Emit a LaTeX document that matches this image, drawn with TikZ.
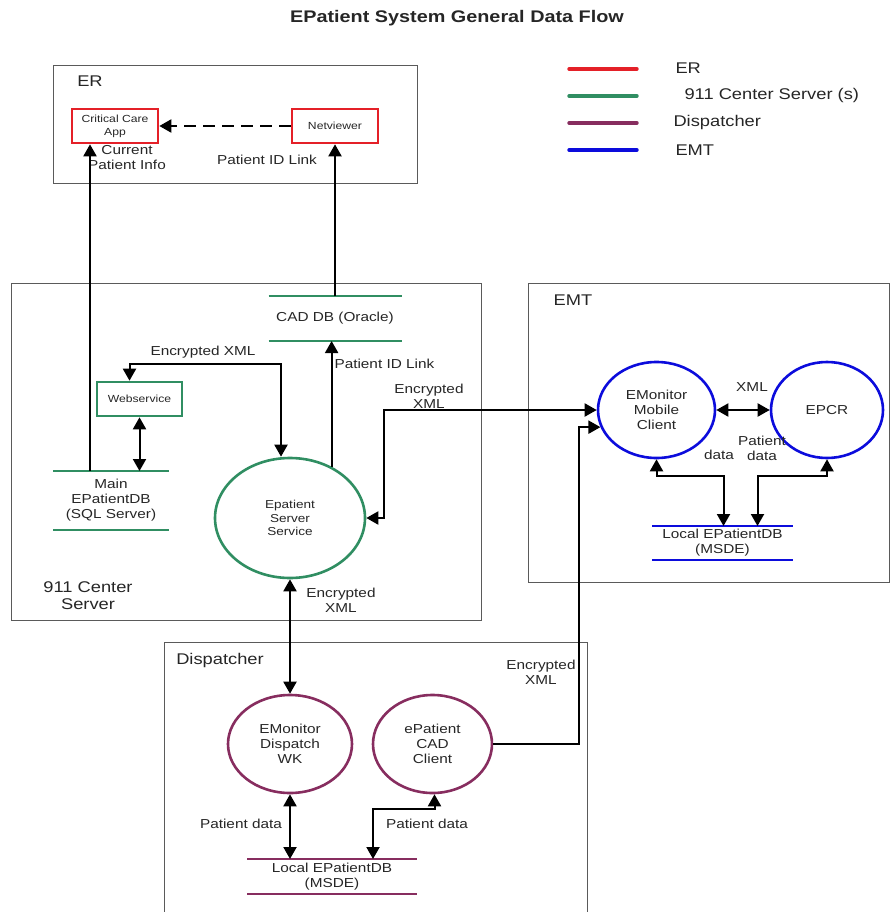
\documentclass[tikz,border=0pt]{standalone}
\usepackage{fontspec}
\setmainfont{Liberation Sans}[FakeStretch=1.18]
\usetikzlibrary{arrows.meta,shapes.geometric}
\definecolor{erred}{RGB}{228,32,40}
\definecolor{srvgreen}{RGB}{48,142,98}
\definecolor{disppurple}{RGB}{135,45,95}
\definecolor{emtblue}{RGB}{12,12,220}
\definecolor{framegray}{RGB}{90,90,90}
\begin{document}
\begin{tikzpicture}[x=1pt,y=-1pt,
  region/.style={draw=framegray, line width=0.9pt, inner sep=0, outer sep=0, anchor=north west},
  reglabel/.style={font=\fontsize{15.5}{18}\selectfont, text=black!85},
  txt/.style={font=\fontsize{13}{15}\selectfont, align=center, text=black!85},
  procbox/.style={draw=#1, line width=2.6pt, inner sep=0, align=center, text=black!85, font=\fontsize{10.3}{13}\selectfont},
  proc/.style={ellipse, draw=#1, line width=2.6pt, inner sep=0, align=center, text=black!85, font=\fontsize{13}{15}\selectfont},
  store/.style={inner sep=0, outer sep=0, align=center, text=black!85, font=\fontsize{13}{15}\selectfont,
     append after command={(\tikzlastnode.north west) edge[draw=#1,line width=2.6pt] (\tikzlastnode.north east)
                          (\tikzlastnode.south west) edge[draw=#1,line width=2.6pt] (\tikzlastnode.south east)}},
  arr/.style={-{Triangle[length=12pt,width=13pt]}, line width=2pt},
  dbl/.style={{Triangle[length=12pt,width=13pt]}-{Triangle[length=12pt,width=13pt]}, line width=2pt},
  legline/.style={line width=3.4pt, line cap=round},
]
\useasboundingbox (0,0) rectangle (890,912);

% title
\node[font=\bfseries\fontsize{16.8}{20}\selectfont, text=black!85] (title) at (457,18) {EPatient System General Data Flow};

% legend
\coordinate (l1a) at (569,69);  \coordinate (l1b) at (637,69);
\coordinate (l2a) at (569,96);  \coordinate (l2b) at (637,96);
\coordinate (l3a) at (569,123); \coordinate (l3b) at (637,123);
\coordinate (l4a) at (569,150); \coordinate (l4b) at (637,150);
\draw[legline, erred] (l1a) -- (l1b);
\draw[legline, srvgreen] (l2a) -- (l2b);
\draw[legline, disppurple] (l3a) -- (l3b);
\draw[legline, emtblue] (l4a) -- (l4b);
\node[reglabel, anchor=west] (leg1) at (672,68) {ER};
\node[reglabel, anchor=west] (leg2) at (681,95) {911 Center Server (s)};
\node[reglabel, anchor=west] (leg3) at (670,122) {Dispatcher};
\node[reglabel, anchor=west] (leg4) at (672,150) {EMT};

% regions
\node[region, minimum width=364, minimum height=118] (er) at (53,65) {};
\node[reglabel] (erl) at (90,81) {ER};
\node[region, minimum width=470, minimum height=337] (srv) at (11,283) {};
\node[reglabel, align=center, font=\fontsize{15.5}{17}\selectfont] (srvl) at (88,596) {911 Center\\Server};
\node[region, minimum width=361, minimum height=299] (emt) at (528,283) {};
\node[reglabel] (emtl) at (573,300) {EMT};
\node[region, minimum width=423, minimum height=272] (disp) at (164,642) {};
\node[reglabel] (displ) at (220,660) {Dispatcher};

% ER nodes
\node[procbox=erred, minimum width=86, minimum height=34] (crit) at (115,126) {Critical Care\\App};
\node[procbox=erred, minimum width=86, minimum height=34] (net) at (335,126) {Netviewer};
\node[txt] (lcur) at (127,158) {Current\\Patient Info};
\node[txt] (lpid1) at (267,160) {Patient ID Link};

% 911 center nodes
\node[store=srvgreen, minimum width=133, minimum height=45] (caddb) at (335,318.5) {CAD DB (Oracle)};
\node[procbox=srvgreen, minimum width=85, minimum height=34] (ws) at (139.5,399) {Webservice};
\node[store=srvgreen, minimum width=116, minimum height=59] (maindb) at (111,500.5) {Main\\EPatientDB\\(SQL Server)};
\node[proc=srvgreen, minimum width=150, minimum height=120, font=\fontsize{11.5}{13.5}\selectfont] (ess) at (290,518) {Epatient\\Server\\Service};

% EMT nodes
\node[proc=emtblue, minimum width=117, minimum height=96] (mob) at (656.5,410) {EMonitor\\Mobile\\Client};
\node[proc=emtblue, minimum width=112, minimum height=96] (epcr) at (827,410) {EPCR};
\node[store=emtblue, minimum width=141, minimum height=34] (emtdb) at (722.5,543) {Local EPatientDB\\(MSDE)};

% Dispatcher nodes
\node[proc=disppurple, minimum width=124, minimum height=98] (dwk) at (290,744) {EMonitor\\Dispatch\\WK};
\node[proc=disppurple, minimum width=119, minimum height=98] (cadc) at (432.5,744) {ePatient\\CAD\\Client};
\node[store=disppurple, minimum width=170, minimum height=35] (dispdb) at (332,876.5) {Local EPatientDB\\(MSDE)};

% connectors
\draw[arr, dashed, dash pattern=on 12pt off 7pt] (net.west) -- (crit.east);
\draw[arr] ([xshift=37pt]maindb.north west) -- ([xshift=37pt]maindb.north west |- crit.south);
\draw[arr] (caddb.north) -- (caddb.north |- net.south);

\draw[dbl] ([xshift=-10pt]ws.north) -- ++(0,-17) -| ([xshift=-9pt]ess.north);
\node[txt] (lenc1) at (203,352) {Encrypted XML};
\draw[dbl] (ws.south) -- (ws.south |- maindb.north);
\draw[arr] (ess.51.8) -- (ess.51.8 |- caddb.south);
\node[txt, anchor=west] (lpid2) at (331,364) {Patient ID Link};

\draw[dbl] (ess.east) -- ++(18,0) |- (mob.west);
\node[txt] (lenc2) at (429,396) {Encrypted\\XML};

\draw[dbl] (mob.east) -- (epcr.west);
\node[txt] (lxml) at (752,387) {XML};
\draw[dbl] (mob.south) -- ++(0,17) -| ([xshift=1pt]emtdb.north);
\draw[dbl] (epcr.south) -- ++(0,17) -| ([xshift=35pt]emtdb.north);
\node[txt] (ldata1) at (719,455) {data};
\node[txt] (ldata2) at (762,448) {Patient\\data};

\draw[arr] (cadc.east) -- ++(86,0) |- (mob.197);
\node[txt] (lenc3) at (541,672) {Encrypted\\XML};

\draw[dbl] (ess.south) -- (dwk.north);
\node[txt] (lenc4) at (341,600) {Encrypted\\XML};

\draw[dbl] (dwk.south) -- (dwk.south |- dispdb.north);
\node[txt] (lpd1) at (241,824) {Patient data};
\draw[dbl] ([xshift=2pt]cadc.south) -- ++(0,15) -| ([xshift=41pt]dispdb.north);
\node[txt] (lpd2) at (427,824) {Patient data};
\end{tikzpicture}
\end{document}
